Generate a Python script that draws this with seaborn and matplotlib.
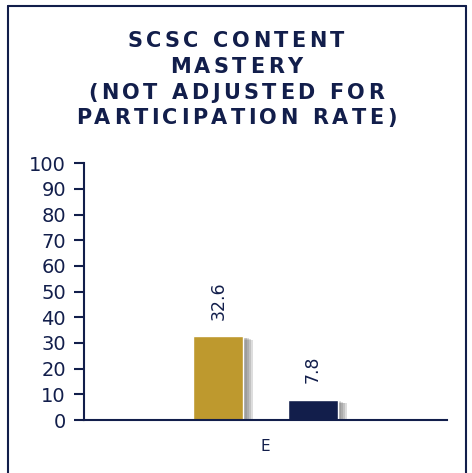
import matplotlib
matplotlib.use("Agg")
import matplotlib.pyplot as plt
import matplotlib.patheffects as pe
from matplotlib.lines import Line2D
from matplotlib.font_manager import FontProperties
import seaborn as sns
import pandas as pd

# data
categories = ["E", "E"]
groups = ["Gold", "Navy"]
values = [32.6, 7.8]
value_labels = ["32.6", "7.8"]
title_lines = ["SCSC CONTENT", "MASTERY", "(NOT ADJUSTED FOR", "PARTICIPATION RATE)"]

navy = "#121E4B"
gold = "#BE992E"

sns.set_style("white")
plt.rcParams['font.family'] = ['DejaVu Sans']

df = pd.DataFrame({"cat": categories, "grp": groups, "val": values})

W, H = 472, 473
fig = plt.figure(figsize=(W / 100, H / 100), dpi=100)
ax = fig.add_axes([0.178, 0.112, 0.769, 0.543])

sns.barplot(data=df, x="cat", y="val", hue="grp", palette=[gold, navy],
            width=0.52, gap=0.47, legend=False, ax=ax, saturation=1)

# soft shadow: several stacked faint offsets
shadow = [pe.SimplePatchShadow(offset=(o, -o * 0.35), shadow_rgbFace="#666666", alpha=0.22)
          for o in (7, 5.5, 4, 2.5)] + [pe.Normal()]
for cont, lab in zip(ax.containers, value_labels):
    for bar in cont:
        bar.set_path_effects(shadow)
    ax.bar_label(cont, labels=[lab], rotation=90, padding=12, color=navy, fontsize=12.5)

ax.set_xlim(-0.5, 0.5)
ax.set_ylim(0, 100)
ax.set_yticks(range(0, 101, 10))
ax.set_xlabel("")
ax.set_ylabel("")
for s in ["top", "right"]:
    ax.spines[s].set_visible(False)
for s in ["left", "bottom"]:
    ax.spines[s].set_color(navy)
    ax.spines[s].set_linewidth(1.5)
ax.tick_params(axis="y", direction="out", length=7, width=1.5, color=navy,
               labelcolor=navy, labelsize=14, left=True, pad=6)
ax.tick_params(axis="x", length=0, labelcolor=navy, labelsize=11, pad=14)

# title with wide letter spacing, placed letter by letter
renderer = fig.canvas.get_renderer()
prop = FontProperties(family="DejaVu Sans", weight="bold", size=15)
tracking = 3.5
line_y = [41, 67, 93, 118]


def text_w(s):
    return renderer.get_text_width_height_descent(s, prop, ismath=False)[0]


base = text_w("HH")


def advance(c):
    # advance width of c, measured between two reference glyphs
    return text_w("H" + c + "H") - base


for line, yp in zip(title_lines, line_y):
    widths = [advance(c) for c in line]
    total = sum(widths) + tracking * (len(line) - 1)
    x = W / 2 - total / 2
    for c, w in zip(line, widths):
        if c != " ":
            fig.text(x / W, 1 - yp / H, c, fontproperties=prop, color=navy,
                     ha="left", va="center")
        x += w + tracking

# outer frame (bottom edge lies outside the image)
for xs, ys in [([8, 8], [H + 5, 6]), ([8, 466], [6, 6]), ([466, 466], [6, H + 5])]:
    fig.add_artist(Line2D([v / W for v in xs], [1 - v / H for v in ys],
                          transform=fig.transFigure, color=navy, linewidth=1.5))

fig.savefig("out.png", dpi=100)
